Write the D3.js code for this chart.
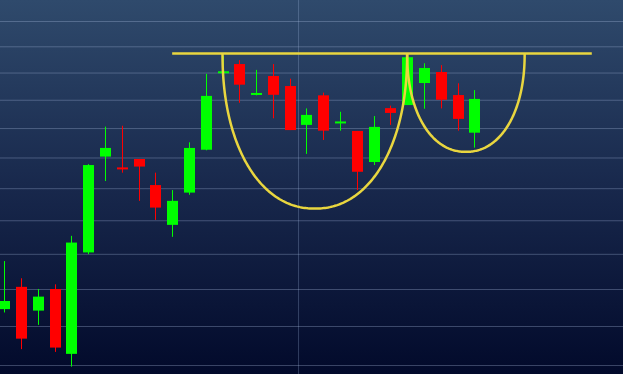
<!DOCTYPE html>
<html>
<head>
<meta charset="utf-8">
<script src="https://cdn.jsdelivr.net/npm/d3@7"></script>
<style>
  html, body { margin: 0; padding: 0; background: #0a1535; }
  svg { display: block; }
</style>
</head>
<body>
<div class="box"></div>
<script>
// données : bougies (cours)
const ouverture = [19.45, 20.06, 19.41, 20.00, 18.28, 21.04, 24.03, 23.65, 23.95, 23.10,
                   21.86, 22.86, 24.26, 26.98, 27.32, 26.19, 26.87, 26.50, 25.11, 26.16,
                   25.18, 24.90, 23.85, 25.70, 25.81, 26.61, 27.02, 26.17, 24.84];
const haut      = [20.79, 20.30, 20.00, 20.13, 21.53, 23.78, 25.05, 25.08, 23.95, 23.50,
                   22.94, 24.51, 26.95, 27.63, 27.47, 27.10, 27.32, 26.77, 25.69, 26.26,
                   25.57, 24.90, 25.42, 25.79, 27.66, 27.35, 27.28, 26.60, 26.35];
const bas       = [19.36, 18.40, 19.03, 18.33, 17.96, 20.99, 23.23, 23.50, 22.60, 22.01,
                   21.50, 22.79, 24.24, 26.57, 25.89, 26.16, 25.34, 24.93, 24.12, 24.59,
                   24.91, 22.94, 23.75, 25.11, 25.81, 25.68, 25.69, 24.91, 24.33];
const cloture   = [19.67, 18.67, 19.79, 18.44, 21.33, 23.75, 24.32, 23.63, 23.70, 22.39,
                   22.60, 24.32, 26.14, 27.04, 26.55, 26.23, 26.18, 24.93, 25.46, 24.91,
                   25.21, 23.53, 25.04, 25.53, 27.58, 27.17, 26.00, 25.32, 26.03];

// grille
const niveaux = [18, 19, 20, 21, 22, 23, 24, 25, 26, 27, 28, 29];
const separations = [17.5];

// tasse + anse (en index / prix)
const resistance = {debut: 10, fin: 35, prix: 27.72};
const tasses = [
  {gauche: 13, droite: 24, fond: 22.36},
  {gauche: 24, droite: 31, fond: 24.19}
];

const dims = {width: 623, height: 374};

const svg = d3.select('.box')
              .append('svg')
              .attr('width', dims.width)
              .attr('height', dims.height);

// fond dégradé
const defs = svg.append('defs');
const degrade = defs.append('linearGradient')
                    .attr('id', 'fond')
                    .attr('x1', 0).attr('y1', 0)
                    .attr('x2', 0).attr('y2', 1);
degrade.append('stop').attr('offset', '0%').attr('stop-color', '#2f4a6c');
degrade.append('stop').attr('offset', '50%').attr('stop-color', '#18284c');
degrade.append('stop').attr('offset', '100%').attr('stop-color', '#020a2b');

svg.append('rect')
   .attr('width', dims.width)
   .attr('height', dims.height)
   .attr('fill', 'url(#fond)');

// échelles
const x = d3.scaleLinear()
            .domain([0, 28])
            .range([4.3, 474.3]);

const y = d3.scaleLog()
            .domain([18, 29])
            .range([365, 21]);

// grille horizontale
const axeY = d3.axisLeft(y)
               .tickValues(niveaux)
               .tickSize(-dims.width)
               .tickFormat('');

svg.append('g')
   .attr('class', 'grille')
   .call(axeY)
   .call(g => g.select('.domain').remove())
   .call(g => g.selectAll('line')
               .attr('stroke', 'rgba(170,190,225,0.32)')
               .attr('stroke-width', 1));

// séparation verticale
const axeX = d3.axisTop(x)
               .tickValues(separations)
               .tickSize(-dims.height)
               .tickFormat('');

svg.append('g')
   .call(axeX)
   .call(g => g.select('.domain').remove())
   .call(g => g.selectAll('line')
               .attr('stroke', 'rgba(170,190,225,0.28)')
               .attr('stroke-width', 1));

// bougies
const donnee = ouverture.map((o, i) => ({
  i: i, o: o, h: haut[i], b: bas[i], c: cloture[i]
}));

const couleur = d => d.c >= d.o ? '#00ff00' : '#ff0000';
const largeur = 11;

const bougies = svg.append('g')
                   .selectAll('g')
                   .data(donnee)
                   .enter()
                   .append('g');

bougies.append('line')
       .attr('x1', d => Math.round(x(d.i)) + 0.5)
       .attr('x2', d => Math.round(x(d.i)) + 0.5)
       .attr('y1', d => y(d.h))
       .attr('y2', d => y(d.b))
       .attr('stroke', couleur)
       .attr('stroke-width', 1);

bougies.append('rect')
       .attr('x', d => Math.round(x(d.i)) + 0.5 - largeur / 2)
       .attr('width', largeur)
       .attr('y', d => {
         const h = Math.abs(y(d.o) - y(d.c));
         const haut = Math.min(y(d.o), y(d.c));
         return h < 2 ? (y(d.o) + y(d.c)) / 2 - 1 : haut;
       })
       .attr('height', d => Math.max(2, Math.abs(y(d.o) - y(d.c))))
       .attr('fill', couleur);

// tracé jaune : résistance + tasses
const jaune = '#e9d63f';
const dessin = svg.append('g')
                  .attr('fill', 'none')
                  .attr('stroke', jaune)
                  .attr('stroke-width', 2.5);

dessin.append('line')
      .attr('x1', x(resistance.debut))
      .attr('x2', x(resistance.fin))
      .attr('y1', y(resistance.prix))
      .attr('y2', y(resistance.prix));

// demi-superellipse entre les deux bords
const courbe = d3.line().curve(d3.curveLinear);
const forme = t => {
  const n = 2.15;
  const a = Math.PI * t;
  const c = Math.cos(a), s = Math.sin(a);
  return [Math.sign(c) * Math.pow(Math.abs(c), 2 / n),
          Math.pow(s, 2 / n)];
};

tasses.forEach(t => {
  const x0 = x(t.gauche), x1 = x(t.droite);
  const cx = (x0 + x1) / 2, rx = (x1 - x0) / 2;
  const cy = y(resistance.prix), ry = y(t.fond) - cy;
  const pts = d3.range(0, 1.0001, 0.005).map(u => {
    const [px, py] = forme(u);
    return [cx - px * rx, cy + py * ry];
  });
  dessin.append('path').attr('d', courbe(pts));
});
</script>
</body>
</html>
